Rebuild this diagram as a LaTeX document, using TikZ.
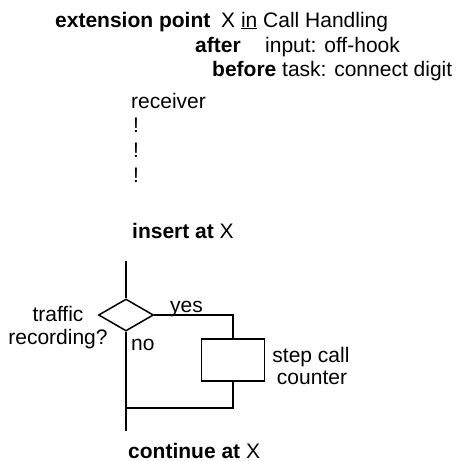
\documentclass[tikz,border=0pt]{standalone}
\usepackage{fontspec}
\setmainfont{Liberation Sans}
\usetikzlibrary{positioning, shapes.geometric}

\begin{document}
\begin{tikzpicture}[
      x=1pt, y=-1pt,
      every node/.style={font=\fontsize{21}{25}\selectfont, inner sep=0pt},
      txt/.style={anchor=base west},
      mid/.style={anchor=base},
      flow/.style={draw, line width=1.5pt, line join=miter},
      decision/.style={flow, diamond, minimum width=55pt, minimum height=32pt},
      task/.style={flow, rectangle, minimum width=63pt, minimum height=42pt},
    ]
    \useasboundingbox (0,0) rectangle (458,461);

    % Header
    \node[txt] (kwext) at (55, 27) {\textbf{extension point}};
    \node[txt] (ext) at (221, 27) {X \underline{in} Call Handling};
    \node[txt] (kwafter) at (195, 52) {\textbf{after}};
    \node[txt] (after) at (265, 52) {input: off-hook};
    \node[txt] (kwbefore) at (212, 76) {\textbf{before}};
    \node[txt] (before) at (282, 76) {task: connect digit};
    \node[txt] (recv) at (131, 108) {receiver};
    \node[txt] (dot1) at (133, 132) {!};
    \node[txt] (dot2) at (133, 157) {!};
    \node[txt] (dot3) at (133, 182) {!};

    \node[txt] (insert) at (132, 238) {\textbf{insert at} X};

    % Flow
    \coordinate (entry) at (126, 261);
    \node[decision] (dec) at (126, 315) {};
    \node[task] (step) at (233, 360) {};
    \coordinate (join) at (126, 408);
    \coordinate (exit) at (126, 431);

    \draw[flow] (entry) -- (dec.north);
    \draw[flow] (dec.east) -| (step.north);
    \draw[flow] (step.south) |- (join);
    \draw[flow] (dec.south) -- (exit);

    % Labels
    \node[mid] (q1) at (58, 321) {traffic};
    \node[mid] (q2) at (58, 344) {recording?};
    \node[txt] (yes) at (170, 312) {yes};
    \node[txt] (no) at (131, 350) {no};
    \node[mid] (s1) at (311, 362) {step call};
    \node[mid] (s2) at (312, 384) {counter};

    \node[txt] (cont) at (128, 458) {\textbf{continue at} X};
  \end{tikzpicture}
\end{document}
